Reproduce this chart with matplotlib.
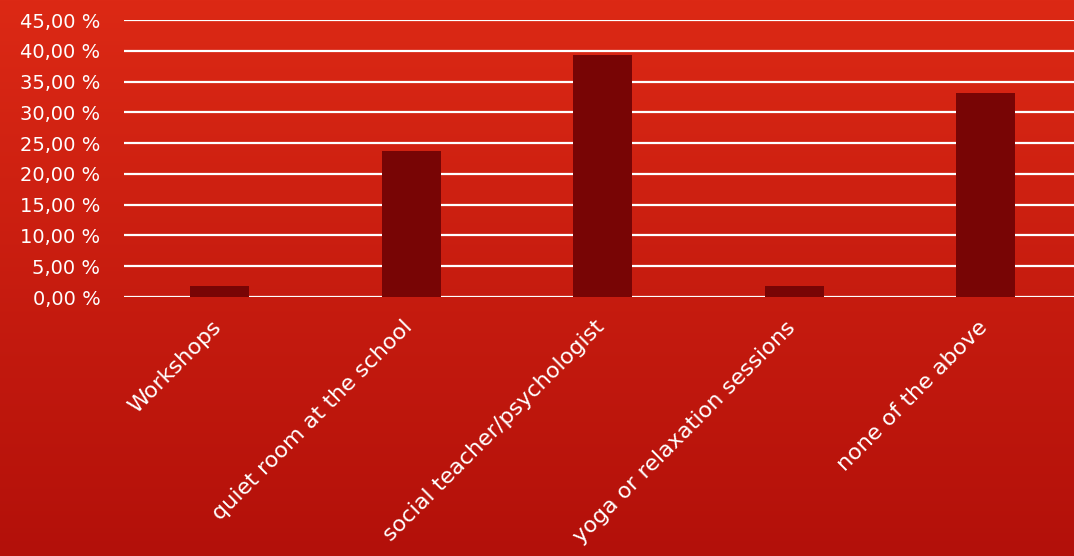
import matplotlib
matplotlib.use('Agg')
import matplotlib.pyplot as plt
from matplotlib.colors import LinearSegmentedColormap
from matplotlib.transforms import ScaledTranslation
import numpy as np

categories = ['Workshops', 'quiet room at the school', 'social teacher/psychologist',
              'yoga or relaxation sessions', 'none of the above']
values = [1.85, 23.8, 39.35, 1.85, 33.15]
yticks = [0, 5, 10, 15, 20, 25, 30, 35, 40, 45]

plt.rcParams['font.family'] = ['DejaVu Sans']

fig = plt.figure(figsize=(10.74, 5.56), dpi=100)

# Hintergrund mit Farbverlauf
bg = fig.add_axes([0, 0, 1, 1], zorder=0)
grad = np.linspace(0, 1, 256).reshape(-1, 1)
cmap = LinearSegmentedColormap.from_list('bg', ['#dc2915', '#b3100a'])
bg.imshow(grad, aspect='auto', cmap=cmap, extent=[0, 1, 0, 1], origin='upper')
bg.set_axis_off()

ax = fig.add_axes([0.1155, 0.4658, 0.8915, 0.498], zorder=1)
ax.patch.set_alpha(0)
x = np.arange(len(categories))
ax.bar(x, values, width=0.31, color='#780505', zorder=3)
ax.set_xlim(-0.5, len(categories) - 0.5)
ax.set_ylim(0, 45)
ax.set_yticks(yticks)
ax.set_yticklabels([f"{v:.2f} %".replace('.', ',') for v in yticks],
                   color='white', fontsize=14)
ax.yaxis.grid(True, color='white', linewidth=1.6, zorder=0)
ax.set_axisbelow(True)
ax.set_xticks(x)
ax.set_xticklabels([])
ax.tick_params(axis='both', length=0)
ax.tick_params(axis='y', pad=17)
for s in ax.spines.values():
    s.set_visible(False)

# Kategorien schräg unter den Balken
off = ax.get_xaxis_transform() + ScaledTranslation(-9 / 100, -20 / 100, fig.dpi_scale_trans)
for i, cat in enumerate(categories):
    ax.text(x[i], 0, cat, transform=off, rotation=45, ha='right', va='top',
            rotation_mode='anchor', color='white', fontsize=16)

fig.savefig('out.png', dpi=100)
